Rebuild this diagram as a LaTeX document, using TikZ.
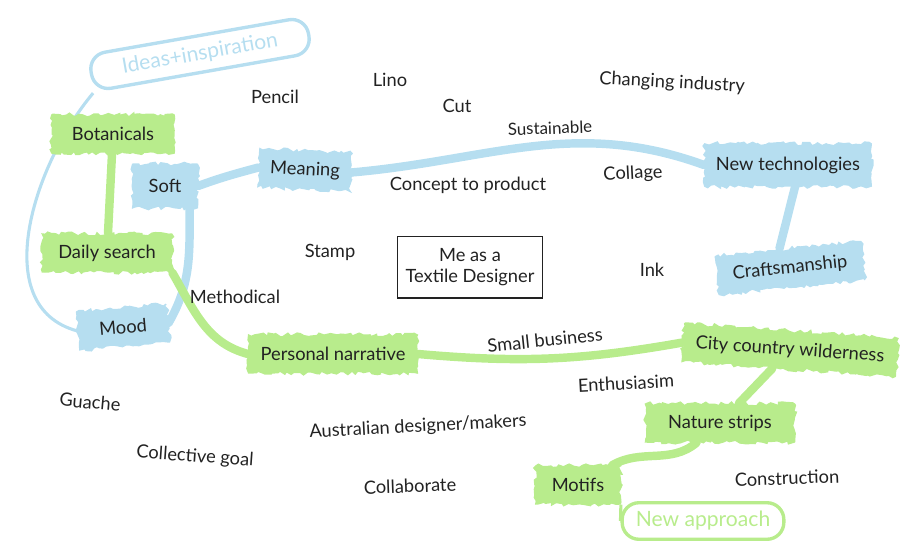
\documentclass[tikz,border=0pt]{standalone}
\usepackage{fontspec}
\setmainfont{Lato}
\usetikzlibrary{decorations.pathmorphing,backgrounds}
\definecolor{patchblue}{RGB}{182,222,240}
\definecolor{patchgreen}{RGB}{184,236,140}
\definecolor{inkgrey}{RGB}{34,34,34}
\newcommand{\handfont}{\fontsize{13}{15}\selectfont}

\begin{document}
\pgfmathsetseed{12}
\begin{tikzpicture}
  [x=0.025cm, y=-0.025cm,
   blue node/.style={fill=patchblue, draw=patchblue, line width=1pt, decorate,
     decoration={random steps, segment length=2.5pt, amplitude=1.4pt},
     minimum height=27pt, inner xsep=8pt, text=inkgrey, font=\handfont},
   green node/.style={blue node, fill=patchgreen, draw=patchgreen},
   word node/.style={text=inkgrey, font=\handfont},
   ring node/.style={draw, line width=2.4pt, rounded corners=12pt, minimum height=26pt,
     font=\fontsize{15}{17}\selectfont},
   blue link/.style={draw=patchblue, line width=6pt, line cap=round},
   green link/.style={draw=patchgreen, line width=6pt, line cap=round},
   thin blue/.style={draw=patchblue, line width=2.2pt},
   thin green/.style={draw=patchgreen, line width=2.2pt}]

\useasboundingbox (0,0) rectangle (904,554);

% main topic
\node[draw=inkgrey, line width=0.8pt, minimum width=103pt, minimum height=44pt,
  align=center, word node] (me) at (470,267) {Me as a\\Textile Designer};

% labels in outline
\node[ring node, draw=patchblue, text=patchblue, minimum width=157pt, rotate=10] (ideas) at (200,54) {Ideas+inspiration};
\node[ring node, draw=patchgreen, text=patchgreen, minimum width=115pt] (newapp) at (703,521) {New approach};

% blue patches
\node[blue node, minimum width=46pt, minimum height=31pt] (soft) at (165,186) {Soft};
\node[blue node, minimum width=62pt, rotate=-3] (meaning) at (305,170) {Meaning};
\node[blue node, minimum width=108pt, minimum height=30pt] (newtech) at (788,165) {New technologies};
\node[blue node, minimum width=104pt, rotate=6] (craft) at (790,268) {Craftsmanship};
\node[blue node, minimum width=64pt, rotate=5] (mood) at (123,327) {Mood};

% green patches
\node[green node, minimum width=87pt] (botanicals) at (113,134) {Botanicals};
\node[green node, minimum width=92pt] (daily) at (107,253) {Daily search};
\node[green node, minimum width=120pt] (personal) at (333,354) {Personal narrative};
\node[green node, minimum width=152pt, rotate=-4] (city) at (790,350) {City country wilderness};
\node[green node, minimum width=106pt] (nature) at (720,423) {Nature strips};
\node[green node, minimum width=60pt] (motifs) at (578,485) {Motifs};

% loose words
\node[word node] (pencil) at (275,97) {Pencil};
\node[word node] (lino) at (390,80) {Lino};
\node[word node] (cut) at (457,106) {Cut};
\node[word node, rotate=2, font=\fontsize{12}{14}\selectfont] (sustain) at (550,128) {Sustainable};
\node[word node, rotate=-3] (changing) at (672,83) {Changing industry};
\node[word node] (concept) at (468,185) {Concept to product};
\node[word node, rotate=3] (collage) at (633,174) {Collage};
\node[word node] (stamp) at (330,252) {Stamp};
\node[word node] (ink) at (652,270) {Ink};
\node[word node] (method) at (235,297) {Methodical};
\node[word node, rotate=6] (small) at (545,340) {Small business};
\node[word node, rotate=3] (enthus) at (626,383) {Enthusiasim};
\node[word node, rotate=-5] (guache) at (90,402) {Guache};
\node[word node, rotate=3] (aussie) at (418,427) {Australian designer/makers};
\node[word node, rotate=-4] (goal) at (195,457) {Collective goal};
\node[word node, rotate=2] (collab) at (410,486) {Collaborate};
\node[word node, rotate=2] (construct) at (787,478) {Construction};

\begin{scope}[on background layer]
\path
  (ideas.south west) edge [thin blue, out=230, in=165] (mood.west)
  (soft.east) edge [blue link, out=20, in=195] (meaning.west)
  (meaning.east) edge [blue link, out=5, in=160] (newtech.west)
  ([xshift=5pt]newtech.south) edge [blue link] ([xshift=-6pt]craft.north)
  ([xshift=-6pt]soft.south east) edge [blue link, out=-90, in=60] (mood.east)
  (botanicals) edge [green link] (daily)
  (daily.south east) edge [green link, out=-60, in=165] (personal.west)
  (personal.east) edge [green link, out=-5, in=190] (city.west)
  (city) edge [green link] (nature)
  (nature) edge [green link, out=220, in=30] (motifs)
  (motifs.south east) edge [thin green] (newapp.west);
\end{scope}

\end{tikzpicture}
\end{document}
